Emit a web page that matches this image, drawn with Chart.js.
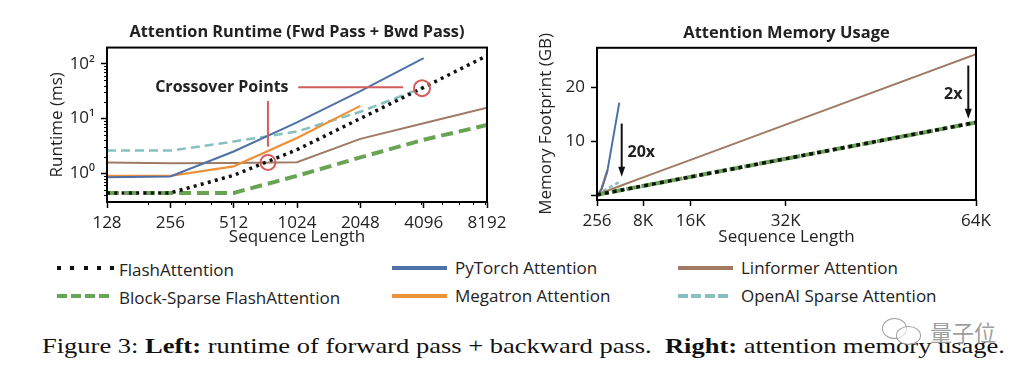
<!DOCTYPE html>
<html><head><meta charset="utf-8">
<script src="https://cdn.jsdelivr.net/npm/chart.js@4.4.1/dist/chart.umd.min.js"></script>
<style>
html,body{margin:0;padding:0;background:#fff;width:1036px;height:378px;overflow:hidden;position:relative;font-family:'Open Sans',sans-serif;color:#222}
canvas{position:absolute;top:0}
#left{left:0}
#right{left:515px}
.lg{position:absolute;font-size:17px;line-height:17px;white-space:nowrap;color:#222}
.sw{position:absolute;height:4px}
#cap{position:absolute;left:42px;top:335px;font-family:'Liberation Serif',serif;font-size:22px;line-height:22px;white-space:nowrap;color:#111;transform-origin:0 0}
#wm{position:absolute;left:930px;top:318px;font-family:'Noto Sans CJK SC',sans-serif;font-size:22px;line-height:26px;color:rgba(140,140,140,0.85);z-index:3}
.bub{position:absolute;border:1px solid rgba(150,150,150,0.9);border-radius:50%;background:rgba(255,255,255,0.6);z-index:3}
</style></head><body>
<canvas id="left" width="515" height="255"></canvas>
<canvas id="right" width="521" height="255"></canvas>
<div id="legend"></div>
<div id="cap">Figure 3: <b>Left:</b> runtime of forward pass + backward pass.&nbsp; <b>Right:</b> attention memory usage.</div>
<div class="bub" style="left:882px;top:318px;width:23px;height:19px"></div>
<div class="bub" style="left:896px;top:326px;width:23px;height:17px"></div>
<div id="wm">量子位</div>
<script>
// ---------------- DATA ----------------
const seriesNames = ['FlashAttention', 'Block-Sparse FlashAttention', 'PyTorch Attention',
                     'Megatron Attention', 'Linformer Attention', 'OpenAI Sparse Attention'];

// Left: runtime (ms) vs sequence length (log-log)
const seqLens = [128, 256, 512, 1024, 2048, 4096, 8192];
const seqTickLabels = ['128', '256', '512', '1024', '2048', '4096', '8192'];
const seqMinorTicks = [200, 300, 400, 500, 600, 700, 800, 900, 2000, 3000, 4000, 5000, 6000, 7000, 8000];
const runtimeTicks = [1, 10, 100];
const runtimeTickLabels = ['10⁰', '10¹', '10²'];
const runtimeMinorTicks = [0.4, 0.5, 0.6, 0.7, 0.8, 0.9, 2, 3, 4, 5, 6, 7, 8, 9, 20, 30, 40, 50, 60, 70, 80, 90];
const rtFlash       = [0.44, 0.44, 0.92, 2.7, 10, 37, 140];
const rtBlockSparse = [0.44, 0.44, 0.44, 0.9, 1.95, 4.1, 7.6];
const rtPyTorch     = [0.85, 0.88, 2.5, 8.5, 31.6, 126, null];
const rtMegatron    = [0.9, 0.9, 1.34, 4.4, 17, null, null];
const rtLinformer   = [1.58, 1.52, 1.55, 1.6, 4.25, 8.2, 15.7];
const rtOpenAI      = [2.6, 2.6, 3.8, 5.8, 13.3, 37, null];

// Right: memory footprint (GB) vs sequence length (linear)
const memSeqLens = [256, 512, 1024, 2048, 4096, 8192, 16384, 32768, 65536];
const memXTicks = [256, 8192, 16384, 32768, 65536];
const memXTickLabels = ['256', '8K', '16K', '32K', '64K'];
const memYTicks = [0, 10, 20];
const memYTickLabels = ['', '10', '20'];
const memFlash       = [0.05, 0.1, 0.21, 0.42, 0.84, 1.69, 3.38, 6.75, 13.5];
const memBlockSparse = [0.05, 0.1, 0.21, 0.42, 0.84, 1.69, 3.38, 6.75, 13.5];
const memLinformer   = [0.1, 0.2, 0.41, 0.82, 1.64, 3.28, 6.55, 13.1, 26.2];
const memPyTorch     = [0.07, 0.27, 1.07, 4.5, 17.2, null, null, null, null];
const memMegatron    = [0.07, 0.27, 1.07, 4.6, null, null, null, null, null];
const memOpenAI      = [0.05, 0.15, 0.5, 1.2, 2.4, null, null, null, null];

// Annotations (data coordinates)
const leftNotes = {
  circles: [{x: 745, y: 1.58, r: 7.5}, {x: 4023, y: 35.8, r: 8}],
  lines: [{x1: 1038, y1: 37, x2: 3268, y2: 37}, {x1: 745, y1: 20.8, x2: 745, y2: 3.06}],
  texts: [{text: 'Crossover Points', x: 450, y: 37}]
};
const rightNotes = {
  arrows: [{x: 4510, y1: 13.3, y2: 3.4}, {x: 64210, y1: 24.1, y2: 14.2}],
  texts: [{text: '20x', x: 7886, y: 8.0}, {text: '2x', x: 61626, y: 18.8}]
};

// ---------------- STYLES ----------------
const C = {flash: '#111111', block: '#67a552', pytorch: '#4e71a8', megatron: '#ee913a',
           linformer: '#a07a64', openai: '#86c1bf', red: '#d65c5c', text: '#222222'};

const FONT = "'Open Sans', sans-serif";

const decor = {
  id: 'decor',
  afterDraw(chart, args, opts) {
    const ctx = chart.ctx, a = chart.chartArea;
    ctx.save();
    (opts.minor || []).forEach(m => {
      const s = chart.scales[m.scale];
      ctx.strokeStyle = '#000'; ctx.lineWidth = 1;
      m.values.forEach(v => {
        const p = Math.round(s.getPixelForValue(v)) + 0.5;
        ctx.beginPath();
        if (s.isHorizontal()) { ctx.moveTo(p, a.bottom); ctx.lineTo(p, a.bottom + m.len); }
        else { ctx.moveTo(a.left, p); ctx.lineTo(a.left - m.len, p); }
        ctx.stroke();
      });
    });
    ctx.lineWidth = 2; ctx.strokeStyle = '#000';
    ctx.strokeRect(a.left, a.top, a.right - a.left, a.bottom - a.top);
    const xs = chart.scales.x, ys = chart.scales.y;
    const n = opts.notes || {};
    ctx.strokeStyle = C.red; ctx.lineWidth = 2;
    (n.lines || []).forEach(l => {
      ctx.beginPath();
      ctx.moveTo(xs.getPixelForValue(l.x1), ys.getPixelForValue(l.y1));
      ctx.lineTo(xs.getPixelForValue(l.x2), ys.getPixelForValue(l.y2));
      ctx.stroke();
    });
    (n.circles || []).forEach(c => {
      ctx.beginPath();
      ctx.arc(xs.getPixelForValue(c.x), ys.getPixelForValue(c.y), c.r, 0, Math.PI * 2);
      ctx.stroke();
    });
    ctx.strokeStyle = '#111'; ctx.fillStyle = '#111'; ctx.lineWidth = 2;
    (n.arrows || []).forEach(ar => {
      const x = xs.getPixelForValue(ar.x), y1 = ys.getPixelForValue(ar.y1), y2 = ys.getPixelForValue(ar.y2);
      ctx.beginPath(); ctx.moveTo(x, y1); ctx.lineTo(x, y2 - 9); ctx.stroke();
      ctx.beginPath(); ctx.moveTo(x - 3.5, y2 - 10); ctx.lineTo(x + 3.5, y2 - 10); ctx.lineTo(x, y2); ctx.closePath(); ctx.fill();
    });
    ctx.fillStyle = C.text; ctx.font = 'bold 16px ' + FONT;
    ctx.textAlign = 'center'; ctx.textBaseline = 'middle';
    (n.texts || []).forEach(t => {
      ctx.fillText(t.text, xs.getPixelForValue(t.x), ys.getPixelForValue(t.y));
    });
    ctx.restore();
  }
};

function pts(xv, yv) { return xv.map((x, i) => ({x: x, y: yv[i]})); }

function ds(label, xv, yv, color, width, dash) {
  return {label, data: pts(xv, yv), borderColor: color, backgroundColor: color, borderWidth: width,
          borderDash: dash || [], borderCapStyle: 'butt', pointRadius: 0, tension: 0, spanGaps: false, fill: false};
}

const tickFont = {family: FONT, size: 17};
const gridOpts = {drawOnChartArea: false, drawTicks: true, tickLength: 6, tickColor: '#000', tickWidth: 1.5};

function build() {
  Chart.defaults.font.family = FONT;
  Chart.defaults.color = C.text;

  new Chart(document.getElementById('left'), {
    type: 'line',
    data: {datasets: [
      ds(seriesNames[0], seqLens, rtFlash, C.flash, 3.5, [3, 4.3]),
      ds(seriesNames[1], seqLens, rtBlockSparse, C.block, 4, [12, 6]),
      ds(seriesNames[2], seqLens, rtPyTorch, C.pytorch, 2),
      ds(seriesNames[3], seqLens, rtMegatron, C.megatron, 2.2),
      ds(seriesNames[4], seqLens, rtLinformer, C.linformer, 2),
      ds(seriesNames[5], seqLens, rtOpenAI, C.openai, 2.5, [9, 5])
    ]},
    options: {
      responsive: false, animation: false, devicePixelRatio: 1,
      layout: {padding: {left: 0, right: 28, top: 0, bottom: 0}},
      plugins: {
        legend: {display: false}, tooltip: {enabled: false},
        title: {display: true, text: 'Attention Runtime (Fwd Pass + Bwd Pass)', fullSize: false, color: C.text,
                font: {family: FONT, size: 16.3, weight: 'bold'}, padding: {top: 23, bottom: 5}},
        decor: {minor: [{scale: 'x', values: seqMinorTicks, len: 3}, {scale: 'y', values: runtimeMinorTicks, len: 3}], notes: leftNotes}
      },
      scales: {
        x: {type: 'logarithmic', min: 128, max: 8192,
            afterBuildTicks: s => { s.ticks = seqLens.map(v => ({value: v})); },
            afterFit: s => { s.height = 53; },
            ticks: {autoSkip: false, maxRotation: 0, padding: 5, color: C.text, font: tickFont,
                    callback: (v, i) => seqTickLabels[i]},
            grid: gridOpts, border: {display: false},
            title: {display: true, text: 'Sequence Length', color: C.text, font: tickFont, padding: {top: 0, bottom: 7.8}}},
        y: {type: 'logarithmic', min: 0.31, max: 197,
            afterBuildTicks: s => { s.ticks = runtimeTicks.map(v => ({value: v})); },
            afterFit: s => { s.width = 107; },
            ticks: {autoSkip: false, padding: 6, color: C.text, font: tickFont,
                    callback: (v, i) => runtimeTickLabels[i]},
            grid: gridOpts, border: {display: false},
            title: {display: true, text: 'Runtime (ms)', color: C.text, font: tickFont, padding: {top: 46.5, bottom: 0}}}
      }
    },
    plugins: [decor]
  });

  new Chart(document.getElementById('right'), {
    type: 'line',
    data: {datasets: [
      ds(seriesNames[0], memSeqLens, memFlash, C.flash, 3.5, [4, 4]),
      ds(seriesNames[1], memSeqLens, memBlockSparse, C.block, 4, [12, 3]),
      ds(seriesNames[2], memSeqLens, memPyTorch, C.pytorch, 2),
      ds(seriesNames[3], memSeqLens, memMegatron, C.megatron, 2.5),
      ds(seriesNames[4], memSeqLens, memLinformer, C.linformer, 2),
      ds(seriesNames[5], memSeqLens, memOpenAI, C.openai, 2.5, [4, 3])
    ]},
    options: {
      responsive: false, animation: false, devicePixelRatio: 1,
      layout: {padding: {left: 0, right: 60, top: 0, bottom: 0}},
      plugins: {
        legend: {display: false}, tooltip: {enabled: false},
        title: {display: true, text: 'Attention Memory Usage', fullSize: false, color: C.text,
                font: {family: FONT, size: 16.5, weight: 'bold'}, padding: {top: 23, bottom: 5}},
        decor: {notes: rightNotes}
      },
      scales: {
        x: {type: 'linear', min: 256, max: 65536,
            afterBuildTicks: s => { s.ticks = memXTicks.map(v => ({value: v})); },
            afterFit: s => { s.height = 55; },
            ticks: {autoSkip: false, maxRotation: 0, padding: 5, color: C.text, font: tickFont,
                    callback: (v, i) => memXTickLabels[i]},
            grid: gridOpts, border: {display: false},
            title: {display: true, text: 'Sequence Length', color: C.text, font: tickFont, padding: {top: 0, bottom: 7.8}}},
        y: {type: 'linear', min: -0.93, max: 27.4,
            afterBuildTicks: s => { s.ticks = memYTicks.map(v => ({value: v})); },
            afterFit: s => { s.width = 82; },
            ticks: {autoSkip: false, padding: 6, color: C.text, font: tickFont,
                    callback: (v, i) => memYTickLabels[i]},
            grid: gridOpts, border: {display: false},
            title: {display: true, text: 'Memory Footprint (GB)', color: C.text, font: tickFont, padding: {top: 20.5, bottom: 0}}}
      }
    },
    plugins: [decor]
  });

  // HTML legend (3 columns x 2 rows)
  const legendLayout = [
    {name: seriesNames[0], sx: 57, tx: 119, row: 0, base: 276, bg: `repeating-linear-gradient(90deg, ${C.flash} 0 4px, transparent 4px 13.3px)`, w: 57},
    {name: seriesNames[1], sx: 57, tx: 119, row: 1, base: 303.7, bg: `repeating-linear-gradient(90deg, ${C.block} 0 10.3px, transparent 10.3px 13.9px)`, w: 52},
    {name: seriesNames[2], sx: 392, tx: 455, row: 0, base: 273.7, bg: C.pytorch, w: 55},
    {name: seriesNames[3], sx: 392, tx: 455, row: 1, base: 302, bg: C.megatron, w: 55},
    {name: seriesNames[4], sx: 678, tx: 741, row: 0, base: 273.7, bg: C.linformer, w: 55},
    {name: seriesNames[5], sx: 678, tx: 741, row: 1, base: 302, bg: `repeating-linear-gradient(90deg, ${C.openai} 0 10px, transparent 10px 13.5px)`, w: 52}
  ];
  const lg = document.getElementById('legend');
  legendLayout.forEach(it => {
    const sw = document.createElement('div');
    sw.className = 'sw';
    sw.style.left = it.sx + 'px'; sw.style.width = it.w + 'px';
    sw.style.top = (it.row === 0 ? 265.7 : 294) + 'px';
    sw.style.background = it.bg;
    lg.appendChild(sw);
    const t = document.createElement('div');
    t.className = 'lg'; t.textContent = it.name;
    t.style.left = it.tx + 'px'; t.style.top = (it.base - 15.1) + 'px';
    lg.appendChild(t);
  });

  const cap = document.getElementById('cap');
  const w = cap.getBoundingClientRect().width;
  cap.style.transform = `scaleX(${963 / w})`;
}

let built = false;
function go() { if (!built) { built = true; build(); } }
Promise.all([
  document.fonts.load("15px 'Open Sans'"), document.fonts.load("bold 15px 'Open Sans'"),
  document.fonts.load("22px 'Liberation Serif'"), document.fonts.load("bold 22px 'Liberation Serif'"),
  document.fonts.load("22px 'Noto Sans CJK SC'")
]).then(go, go);
setTimeout(go, 1500);
</script>
</body></html>
